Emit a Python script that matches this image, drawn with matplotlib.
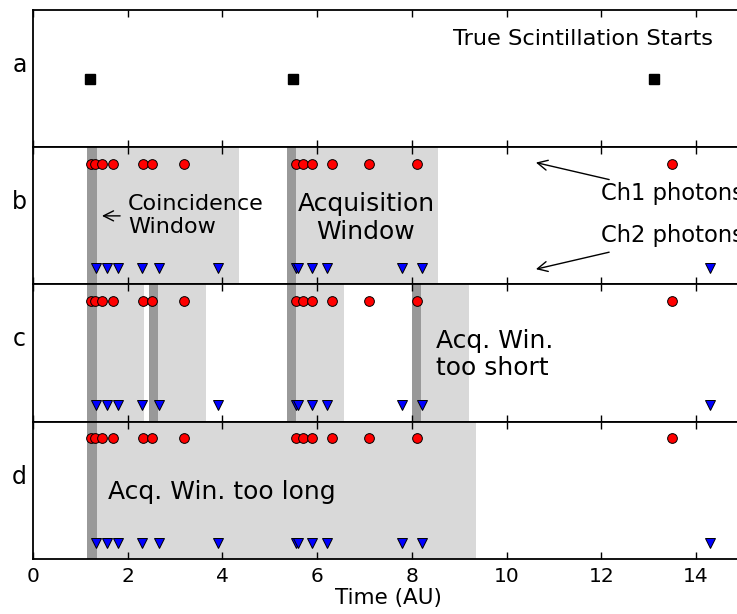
import matplotlib

matplotlib.use("Agg")
import matplotlib.pyplot as plt

# Event times (AU)
start_times = [1.20, 5.49, 13.11]
ch1_times = [1.23, 1.31, 1.45, 1.70, 2.33, 2.51, 3.20, 5.55, 5.71, 5.90, 6.31, 7.10, 8.10, 13.50]
ch2_times = [1.33, 1.56, 1.80, 2.30, 2.66, 3.91, 5.55, 5.59, 5.90, 6.20, 7.80, 8.21, 14.30]

# Window starts for panels b, c, d and their acquisition lengths
window_starts = {
    "b": [1.15, 5.36],
    "c": [1.15, 2.45, 5.36, 8.00],
    "d": [1.15],
}
acq_lengths = {"b": 3.2, "c": 1.2, "d": 8.2}
coinc_width = 0.2

panel_names = ["a", "b", "c", "d"]
x_ticks = [0, 2, 4, 6, 8, 10, 12, 14]

CH1_Y = 0.88
CH2_Y = 0.12

plt.rcParams["font.family"] = "DejaVu Sans"

fig = plt.figure(figsize=(7.37, 6.14), dpi=100)

left, width = 0.0446, 0.9643
top, bottom = 0.9837, 0.0896
height = (top - bottom) / 4

axes = []
for i, name in enumerate(panel_names):
    ax = fig.add_axes([left, top - (i + 1) * height, width, height])
    ax.set_xlim(0, 15)
    ax.set_ylim(0, 1)
    ax.set_yticks([])
    ax.set_xticks(x_ticks)
    ax.tick_params(axis="x", direction="in", top=True, bottom=True, length=5,
                   width=1, labelsize=14.5, pad=6)
    for sp in ax.spines.values():
        sp.set_linewidth(1.3)
    if i < 3:
        ax.tick_params(labelbottom=False)
    ax.text(-0.0186, 0.6, name, transform=ax.transAxes, ha="center",
            va="center", fontsize=17)
    axes.append(ax)

ax_a, ax_b, ax_c, ax_d = axes

arrow = dict(arrowstyle="->", lw=1, mutation_scale=18)

# panel a: true starts
ax_a.plot(start_times, [0.5] * len(start_times), "s", color="black",
          markersize=7, linestyle="none")
ax_a.text(14.35, 0.79, "True Scintillation Starts", ha="right", va="center",
          fontsize=16.2)

# panels b-d: windows and photons
for name, ax in zip(["b", "c", "d"], [ax_b, ax_c, ax_d]):
    for s in window_starts[name]:
        ax.axvspan(s, s + acq_lengths[name], color="#d9d9d9", lw=0, zorder=0)
        ax.axvspan(s, s + coinc_width, color="#999999", lw=0, zorder=1)
    ax.plot(ch1_times, [CH1_Y] * len(ch1_times), "o", color="red",
            markeredgecolor="black", markeredgewidth=0.7, markersize=7,
            linestyle="none", zorder=3)
    ax.plot(ch2_times, [CH2_Y] * len(ch2_times), "v", color="blue",
            markeredgecolor="black", markeredgewidth=0.7, markersize=7,
            linestyle="none", zorder=3)

# annotations in b
ax_b.text(2.01, 0.5, "Coincidence\nWindow", ha="left", va="center",
          fontsize=16, linespacing=1.2)
ax_b.annotate("", xy=(1.40, 0.5), xytext=(1.90, 0.5), arrowprops=arrow)
ax_b.text(7.03, 0.485, "Acquisition\nWindow", ha="center", va="center",
          fontsize=18, linespacing=1.2)
ax_b.text(12.0, 0.664, "Ch1 photons", ha="left", va="center", fontsize=16.3)
ax_b.text(12.0, 0.358, "Ch2 photons", ha="left", va="center", fontsize=16.3)
ax_b.annotate("", xy=(10.56, 0.893), xytext=(12.22, 0.76), arrowprops=arrow)
ax_b.annotate("", xy=(10.56, 0.107), xytext=(12.22, 0.24), arrowprops=arrow)

ax_c.text(8.51, 0.49, "Acq. Win.\ntoo short", ha="left", va="center",
          fontsize=18, linespacing=1.15)

ax_d.text(1.58, 0.49, "Acq. Win. too long", ha="left", va="center", fontsize=18)
ax_d.set_xlabel("Time (AU)", fontsize=15.5, labelpad=1)

fig.savefig("out.png", dpi=100)
